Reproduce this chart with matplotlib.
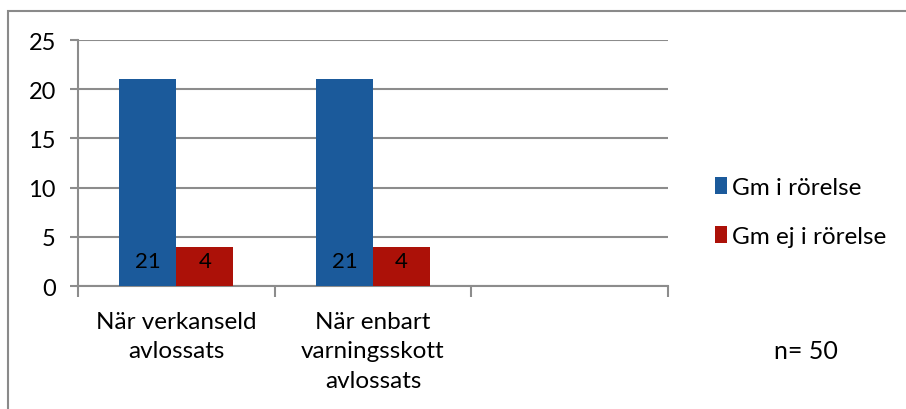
import numpy as np
import matplotlib.pyplot as plt
from matplotlib.patches import Rectangle

# Data
categories = ["När verkanseld\navlossats", "När enbart\nvarningsskott\navlossats"]
n_slots = 3
series_names = ["Gm i rörelse", "Gm ej i rörelse"]
gm_moving = [21, 21]
gm_not_moving = [4, 4]
y_ticks = [0, 5, 10, 15, 20, 25]
note = "n= 50"

BLUE = "#1B5A9B"
RED = "#AC1108"
GRID = "#8C8C8C"

plt.rcParams['font.family'] = ['Lato', 'DejaVu Sans']

fig = plt.figure(figsize=(9.06, 4.10), dpi=100)
ax = fig.add_axes([78 / 906, 123 / 410, 590 / 906, 246 / 410])

x = np.arange(len(categories))
w = 0.29
b1 = ax.bar(x - w / 2, gm_moving, w, color=BLUE, label=series_names[0], zorder=3)
b2 = ax.bar(x + w / 2, gm_not_moving, w, color=RED, label=series_names[1], zorder=3)

# value labels at the base of the bars
for bars, vals in ((b1, gm_moving), (b2, gm_not_moving)):
    for rect, v in zip(bars, vals):
        ax.annotate(str(v), (rect.get_x() + rect.get_width() / 2, 0),
                    xytext=(0, 18), textcoords='offset points',
                    ha='center', va='center', fontsize=16, color='black', zorder=4)

ax.set_xlim(-0.5, n_slots - 0.5)
ax.set_ylim(0, 25)
ax.set_yticks(y_ticks)
ax.yaxis.grid(True, color=GRID, linewidth=1.5, zorder=0)
ax.set_axisbelow(True)

ax.set_xticks(x)
ax.set_xticklabels(categories, fontsize=17.5, linespacing=1.5)
ax.set_xticks(np.arange(n_slots + 1) - 0.5, minor=True)
ax.tick_params(axis='x', which='major', length=0, pad=18)
ax.tick_params(axis='x', which='minor', length=8, width=1.5, color=GRID, direction='out')
ax.tick_params(axis='y', length=6, width=1.5, color=GRID, labelsize=17, pad=10)

for side in ('top', 'right'):
    ax.spines[side].set_visible(False)
for side in ('left', 'bottom'):
    ax.spines[side].set_color(GRID)
    ax.spines[side].set_linewidth(1.5)

fig.legend(handles=[b1, b2], loc='center left', bbox_to_anchor=(705 / 906, 1 - 213 / 410),
           frameon=False, fontsize=17.5, handlelength=0.5, handleheight=0.7,
           handletextpad=0.2, labelspacing=1.15, borderaxespad=0)

fig.text(806 / 906, 1 - 352 / 410, note, fontsize=18, ha='center', va='center')

# outer chart border
fig.patches.append(Rectangle((8 / 906, -0.1), 1.2, 1.1 - 12 / 410, transform=fig.transFigure,
                             fill=False, edgecolor='#8A8A8A', linewidth=1.5))

fig.savefig('out.png', dpi=100)
